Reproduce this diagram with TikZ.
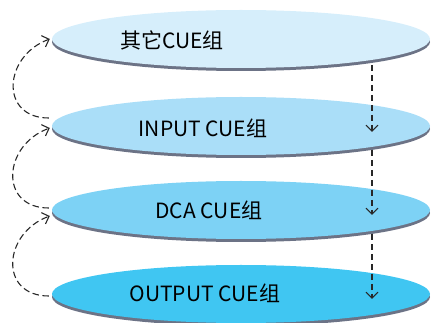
\documentclass[tikz,border=0pt]{standalone}
\usepackage{fontspec}
\setmainfont{Noto Sans CJK SC}
\usetikzlibrary{shapes.geometric,shadows,arrows.meta}
\definecolor{cueone}{RGB}{214,238,251}
\definecolor{cuetwo}{RGB}{170,222,248}
\definecolor{cuethree}{RGB}{125,210,245}
\definecolor{cuefour}{RGB}{64,198,242}
\definecolor{cueshadow}{RGB}{108,115,134}
\definecolor{cueline}{RGB}{40,40,40}
\tikzset{
    cuedisk/.style={ellipse,minimum width=378pt,minimum height=58pt,inner sep=0pt,draw=none,general shadow={fill=cueshadow,shadow yshift=-3pt}},
    cuelabel/.style={font=\fontsize{21}{25}\selectfont,text=black,inner sep=0pt},
    cuearrow/.style={draw=cueline,line width=1.1pt,dash pattern=on 6.5pt off 3.5pt,-{Straight Barb[length=6pt,width=12pt]}}
}
\begin{document}
\begin{tikzpicture}[x=1pt,y=-1pt]
    \pgfmathsetmacro{\cx}{241}
    \pgfmathsetmacro{\rx}{372}
    \useasboundingbox (0,0) rectangle (432,323);
    \node[cuedisk,fill=cueone] (d1) at (\cx,39) {};
    \node[cuedisk,fill=cuetwo] (d2) at (\cx,126) {};
    \node[cuedisk,fill=cuethree] (d3) at (\cx,210) {};
    \node[cuedisk,fill=cuefour] (d4) at (\cx,294) {};
    \node[cuelabel] (l1) at (172,40) {其它CUE组};
    \node[cuelabel] (l2) at (203,128) {INPUT CUE组};
    \node[cuelabel] (l3) at (209,210) {DCA CUE组};
    \node[cuelabel] (l4) at (205,293) {OUTPUT CUE组};
    \coordinate (t1) at (\rx,65);
    \coordinate (h1) at (\rx,132);
    \coordinate (t2) at (\rx,150);
    \coordinate (h2) at (\rx,215);
    \coordinate (t3) at (\rx,234);
    \coordinate (h3) at (\rx,299);
    \draw[cuearrow] (t1) -- (h1);
    \draw[cuearrow] (t2) -- (h2);
    \draw[cuearrow] (t3) -- (h3);
    \draw[cuearrow] ([xshift=-3pt,yshift=8pt]d2.west) to[out=180,in=200,looseness=1.6] ([xshift=-2pt]d1.west);
    \draw[cuearrow] ([xshift=-3pt,yshift=2pt]d3.west) to[out=180,in=200,looseness=1.6] ([xshift=-2pt,yshift=-2pt]d2.west);
    \draw[cuearrow] ([xshift=-3pt,yshift=-2pt]d4.west) to[out=180,in=200,looseness=1.6] ([xshift=-2pt,yshift=-6pt]d3.west);
\end{tikzpicture}
\end{document}
